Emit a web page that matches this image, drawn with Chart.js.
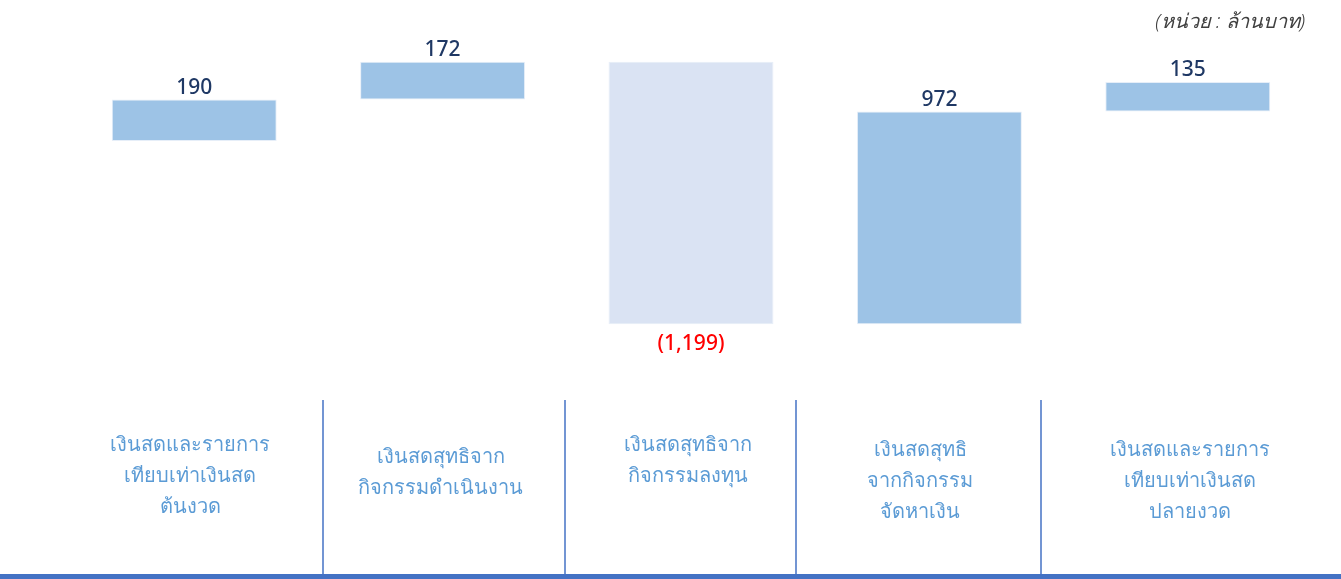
<!DOCTYPE html>
<html>
<head>
<meta charset="utf-8">
<script src="https://cdn.jsdelivr.net/npm/chart.js@4"></script>
<style>
  html, body { margin: 0; padding: 0; background: #fff; }
  #wrap { position: relative; width: 1341px; height: 579px; }
</style>
</head>
<body>
<div id="wrap"><canvas id="cashFlowChart"></canvas></div>
<script>
// categories (multi-line labels)
const categories = [
    ['เงินสดและรายการ', 'เทียบเท่าเงินสด', 'ต้นงวด'],
    ['เงินสดสุทธิจาก', 'กิจกรรมดำเนินงาน'],
    ['เงินสดสุทธิจาก', 'กิจกรรมลงทุน'],
    ['เงินสดสุทธิ', 'จากกิจกรรม', 'จัดหาเงิน'],
    ['เงินสดและรายการ', 'เทียบเท่าเงินสด', 'ปลายงวด']
];
// amounts shown on the bars (million baht)
const amounts = [190, 172, -1199, 972, 135];
// floating bar ranges as drawn in the picture
const barLow  = [0, 190, -837, -837, 135];
const barHigh = [190, 362, 362, 135, 270];
const unitText = '(หน่วย : ล้านบาท)';

const fmt = v => {
    const s = Math.abs(v).toLocaleString('en-US');
    return v < 0 ? '(' + s + ')' : s;
};

// label block placement under each bar (nudges from the tick centre)
const labelShiftX = [-4, -2, -3, -19, 2];
const labelCenterY = [474, 471, 459, 479, 479];

const labelsPlugin = {
    id: 'waterfallLabels',
    afterDatasetsDraw(chart) {
        const ctx = chart.ctx;
        const meta = chart.getDatasetMeta(0);
        ctx.save();
        ctx.font = '500 21px "Noto Sans", sans-serif';
        ctx.textAlign = 'center';
        meta.data.forEach((el, i) => {
            const top = Math.min(el.y, el.base);
            const bottom = Math.max(el.y, el.base);
            if (amounts[i] < 0) {
                ctx.fillStyle = '#FF0000';
                ctx.textBaseline = 'top';
                ctx.fillText(fmt(amounts[i]), el.x, bottom + 9);
            } else {
                ctx.fillStyle = '#1F3864';
                ctx.textBaseline = 'bottom';
                ctx.fillText(fmt(amounts[i]), el.x, top - 1);
            }
        });

        // category labels under the chart
        const xScale = chart.scales.x;
        ctx.font = '300 20px "Noto Sans", sans-serif';
        ctx.fillStyle = '#5B9BD5';
        ctx.textBaseline = 'middle';
        const lineH = 31;
        categories.forEach((lines, i) => {
            const x = xScale.getPixelForValue(i) + labelShiftX[i];
            const startY = labelCenterY[i] + 2 - (lines.length - 1) * lineH / 2;
            lines.forEach((t, j) => ctx.fillText(t, x, startY + j * lineH));
        });

        // separators and bottom rule
        ctx.strokeStyle = '#4472C4';
        ctx.lineWidth = 1.5;
        [323, 565, 796, 1041].forEach(x => {
            ctx.beginPath();
            ctx.moveTo(x, 400);
            ctx.lineTo(x, 574);
            ctx.stroke();
        });
        ctx.fillStyle = '#4472C4';
        ctx.fillRect(0, 574, chart.width, 5);

        // unit
        ctx.font = 'italic 300 20px "Noto Sans", sans-serif';
        ctx.fillStyle = '#404040';
        ctx.textAlign = 'right';
        ctx.fillText(unitText, 1305, 22);
        ctx.restore();
    }
};

const chartCtx = document.getElementById('cashFlowChart').getContext('2d');
const cashFlowChart = new Chart(chartCtx, {
    type: 'bar',
    data: {
        labels: categories.map(c => c.join(' ')),
        datasets: [{
            data: barLow.map((lo, i) => [lo, barHigh[i]]),
            backgroundColor: amounts.map(v => v < 0 ? '#DAE3F3' : '#9DC3E6'),
            borderColor: '#E6EEF8',
            borderWidth: 1,
            borderSkipped: false,
            barPercentage: 0.664,
            categoryPercentage: 1
        }]
    },
    options: {
        responsive: true,
        maintainAspectRatio: false,
        animation: false,
        layout: { padding: { left: 70, right: 29, top: 30, bottom: 184 } },
        plugins: { legend: { display: false }, tooltip: { enabled: false } },
        scales: {
            x: { display: false },
            y: { display: false, min: -1160, max: 507 }
        }
    },
    plugins: [labelsPlugin]
});
</script>
</body>
</html>
